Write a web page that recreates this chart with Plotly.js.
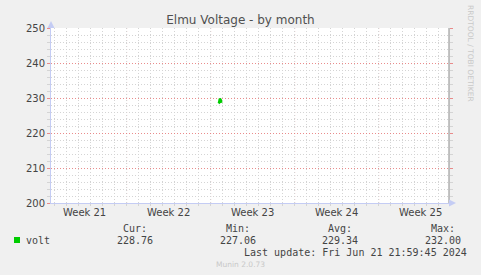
<!DOCTYPE html>
<html>
<head>
<meta charset="utf-8">
<script src="https://cdn.plot.ly/plotly-3.0.1.min.js"></script>
<style>
  html, body { margin: 0; padding: 0; background: #f0f0f0; }
  #chart { width: 481px; height: 275px; }
</style>
</head>
<body>
<div id="chart"></div>
<script>
// Voltage samples (2-hour averages)
const sampleTimes = ['2024-06-03 15:30', '2024-06-03 17:00', '2024-06-03 18:30', '2024-06-03 20:00', '2024-06-03 21:30'];
const voltValues = [228.5, 228.7, 229.8, 229.5, 228.6];

// Week boundaries and week labels on the time axis
const weekStarts = ['2024-05-27', '2024-06-03', '2024-06-10', '2024-06-17'];
const weekCenters = ['2024-05-23 12:00', '2024-05-30 12:00', '2024-06-06 12:00', '2024-06-13 12:00', '2024-06-20 12:00'];
const weekLabels = ['Week 21', 'Week 22', 'Week 23', 'Week 24', 'Week 25'];

// Legend statistics
const seriesName = 'volt';
const statLabels = ['Cur:', 'Min:', 'Avg:', 'Max:'];
const statValues = [228.76, 227.06, 229.34, 232.00];
const lastUpdate = 'Last update: Fri Jun 21 21:59:45 2024';

const timeRange = ['2024-05-20 16:50', '2024-06-22 20:40'];
const voltRange = [200, 250];

// Plot frame in pixels
const W = 481, H = 275, L = 51, R = 449, T = 28, B = 203;
const px = v => (v - L) / (R - L);
const py = v => (B - v) / (B - T);

const MONO = 'DejaVu Sans Mono, monospace';
const SANS = 'DejaVu Sans, sans-serif';
const TEXT = '#444';
const MAJOR = 'rgba(230,120,120,0.85)';
const MINOR = '#d4d4d4';
const AXIS = '#c4ccf4';
const GREEN = '#00cc00';

const traces = [
  {
    x: sampleTimes, y: voltValues, type: 'scatter', mode: 'lines',
    line: { color: GREEN, width: 2.5 }, name: seriesName, showlegend: false,
    hoverinfo: 'skip'
  },
  { x: [], y: [], yaxis: 'y2', type: 'scatter', showlegend: false }
];

const shapes = weekStarts.map(d => ({
  type: 'line', layer: 'between', xref: 'x', yref: 'paper',
  x0: d, x1: d, y0: 0, y1: 1,
  line: { color: MAJOR, width: 1, dash: '1px,2px' }
}));
// right frame line
shapes.push({ type: 'line', xref: 'paper', yref: 'paper', x0: 1, x1: 1, y0: 0, y1: 1,
  line: { color: '#8a8a8a', width: 1 } });
// axis arrows
shapes.push({ type: 'path', xref: 'paper', yref: 'paper',
  path: `M ${px(47.5)} ${py(28)} L ${px(51)} ${py(21)} L ${px(54.5)} ${py(28)} Z`,
  fillcolor: AXIS, line: { width: 0 } });
shapes.push({ type: 'path', xref: 'paper', yref: 'paper',
  path: `M ${px(449)} ${py(199.5)} L ${px(456)} ${py(203)} L ${px(449)} ${py(206.5)} Z`,
  fillcolor: AXIS, line: { width: 0 } });
// legend swatch
shapes.push({ type: 'rect', xref: 'paper', yref: 'paper',
  x0: px(14), x1: px(20), y0: py(243), y1: py(237),
  fillcolor: GREEN, line: { width: 0 } });

const ann = (x, y, text, opts) => Object.assign({
  xref: 'paper', yref: 'paper', x: px(x), y: py(y), text: text,
  showarrow: false, borderpad: 0, borderwidth: 0,
  xanchor: 'left', yanchor: 'middle',
  font: { family: MONO, size: 10, color: TEXT }
}, opts || {});

const valueRight = [153, 256, 358, 461];
const annotations = [];
annotations.push(ann(26, 240, seriesName));
statLabels.forEach((s, i) => annotations.push(ann(valueRight[i] - 6, 228, s, { xanchor: 'right' })));
statValues.forEach((v, i) => annotations.push(ann(valueRight[i], 240, v.toFixed(2), { xanchor: 'right' })));
annotations.push(ann(467, 252, lastUpdate, { xanchor: 'right' }));
annotations.push(ann(240, 264, 'Munin 2.0.73', { xanchor: 'center',
  font: { family: SANS, size: 7.5, color: '#c8c8c8' } }));
annotations.push(ann(471, 54, 'RRDTOOL / TOBI OETIKER', { xanchor: 'center', textangle: 90,
  font: { family: SANS, size: 7.5, color: '#c8c8c8' } }));

const layout = {
  width: W, height: H,
  margin: { l: L, r: W - R, t: T, b: H - B, pad: 0 },
  paper_bgcolor: '#f0f0f0', plot_bgcolor: '#ffffff',
  font: { family: SANS, size: 10, color: TEXT },
  title: { text: 'Elmu Voltage - by month', font: { family: SANS, size: 12, color: '#505050' },
    x: 0.5, xref: 'container', y: 1 - 20 / H, yref: 'container', yanchor: 'middle' },
  showlegend: false,
  xaxis: {
    type: 'date', range: timeRange, fixedrange: true,
    tickmode: 'array', tickvals: weekCenters, ticktext: weekLabels,
    ticks: '', showgrid: false, zeroline: false,
    showline: true, linecolor: AXIS, linewidth: 1,
    tickfont: { family: SANS, size: 10, color: TEXT },
    minor: { dtick: 86400000, tick0: '2024-05-20', showgrid: true, gridcolor: MINOR,
      griddash: '1px,2px', ticks: 'outside', ticklen: 2, tickcolor: MINOR }
  },
  yaxis: {
    range: voltRange, fixedrange: true, dtick: 10, tick0: 200,
    showgrid: true, gridcolor: MAJOR, griddash: '1px,2px', zeroline: false,
    showline: true, linecolor: AXIS, linewidth: 1,
    ticks: 'outside', ticklen: 3, tickcolor: MAJOR,
    tickfont: { family: SANS, size: 10, color: TEXT },
    minor: { dtick: 2, showgrid: true, gridcolor: MINOR, griddash: '1px,2px',
      ticks: 'outside', ticklen: 3, tickcolor: MINOR }
  },
  yaxis2: {
    overlaying: 'y', side: 'right', anchor: 'x', range: voltRange, fixedrange: true,
    dtick: 10, tick0: 200, showgrid: false, zeroline: false, showline: false,
    showticklabels: false, ticks: 'outside', ticklen: 3, tickcolor: MAJOR,
    minor: { dtick: 2, ticks: 'outside', ticklen: 3, tickcolor: MINOR }
  },
  shapes: shapes,
  annotations: annotations
};

Plotly.newPlot('chart', traces, layout, { displayModeBar: false, staticPlot: true });
</script>
</body>
</html>
